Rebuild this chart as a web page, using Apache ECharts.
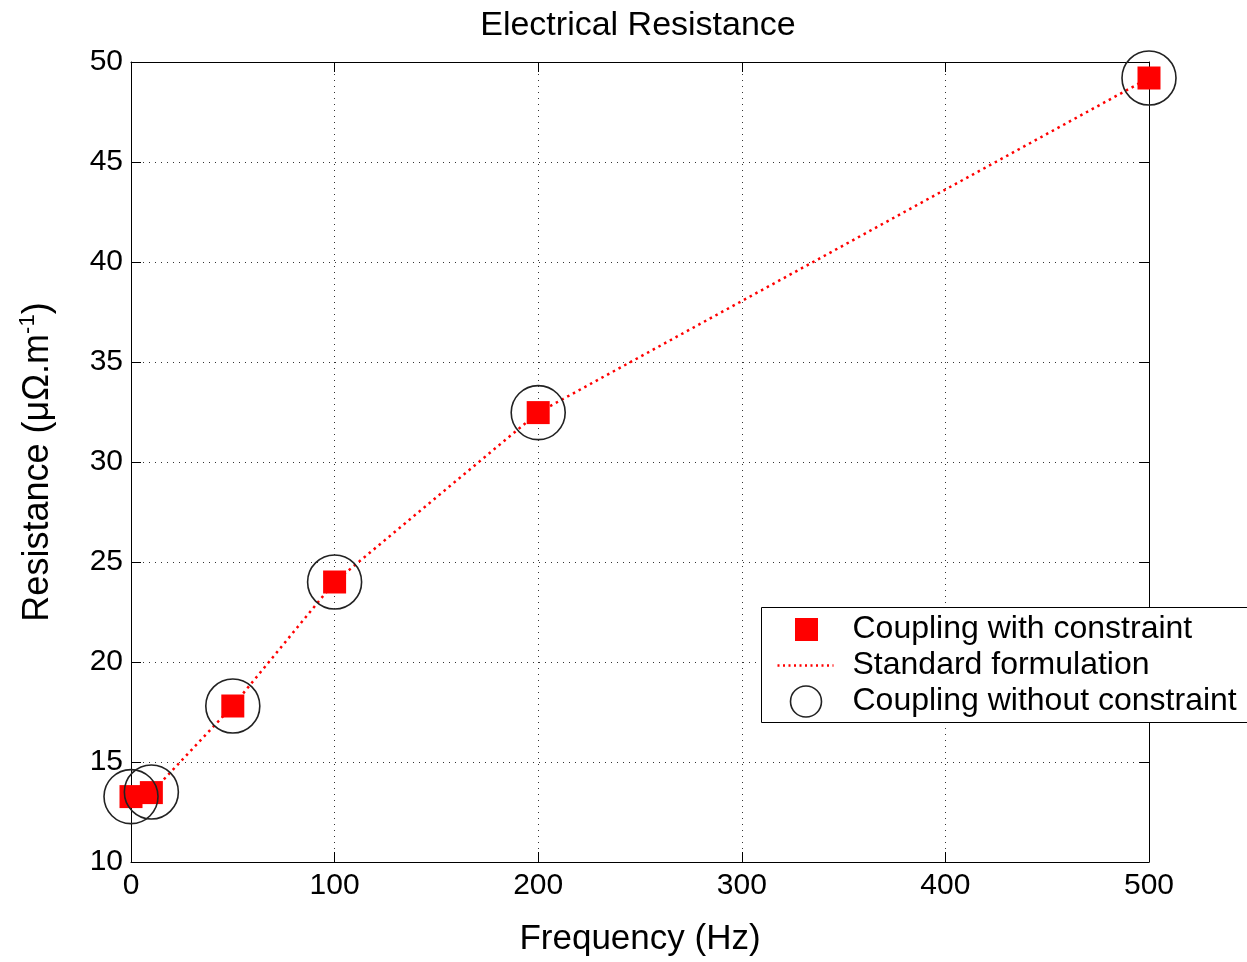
<!DOCTYPE html>
<html>
<head>
<meta charset="utf-8">
<script src="https://cdn.jsdelivr.net/npm/echarts@6/dist/echarts.min.js"></script>
<style>
html,body{margin:0;padding:0;background:#fff;}
#chart{width:1247px;height:962px;}
</style>
</head>
<body>
<div id="chart"></div>
<script>
// ---- data ----
var titleText = 'Electrical Resistance';
var xAxisName = 'Frequency (Hz)';
var frequency = [0, 10, 50, 100, 200, 500];
var withConstraint = [13.27, 13.47, 17.8, 24.0, 32.47, 49.2];
var standardFormulation = [13.27, 13.47, 17.8, 24.0, 32.47, 49.2];
var withoutConstraint = [13.27, 13.5, 17.8, 24.0, 32.47, 49.2];
var seriesNames = ['Coupling with constraint', 'Standard formulation', 'Coupling without constraint'];
var xTicks = [0, 100, 200, 300, 400, 500];
var yTicks = [10, 15, 20, 25, 30, 35, 40, 45, 50];

function pairs(xs, ys) { return xs.map(function (x, i) { return [x, ys[i]]; }); }

var FONT = '"Liberation Sans", Arial, Helvetica, sans-serif';
var chart = echarts.init(document.getElementById('chart'), null, {renderer: 'canvas'});

var gridL = 131, gridT = 62, gridR = 1149, gridB = 862;
var legX = 761, legY = 607;

var axisTick = {show: true, inside: true, length: 10, lineStyle: {color: '#000'}};
var splitLine = {show: true, lineStyle: {color: '#333', type: [1, 5], width: 1}};
var axisLine = {show: true, onZero: false, lineStyle: {color: '#000', width: 1}};

var option = {
  backgroundColor: '#fff',
  animation: false,
  title: {
    text: titleText,
    left: 633, top: 4, textAlign: 'center',
    textStyle: {fontFamily: FONT, fontSize: 34, fontWeight: 'normal', color: '#000'}
  },
  grid: {left: gridL, top: gridT, right: 1247 - gridR, bottom: 962 - gridB, show: false},
  xAxis: [{
    type: 'value', min: xTicks[0], max: xTicks[xTicks.length - 1], interval: 100,
    position: 'bottom',
    name: xAxisName, nameLocation: 'middle', nameGap: 60,
    nameTextStyle: {fontFamily: FONT, fontSize: 35, color: '#000'},
    axisLabel: {fontFamily: FONT, fontSize: 30, color: '#000', margin: 9},
    axisLine: axisLine, axisTick: axisTick, splitLine: splitLine
  }, {
    type: 'value', min: xTicks[0], max: xTicks[xTicks.length - 1], interval: 100,
    position: 'top',
    axisLabel: {show: false},
    axisLine: axisLine, axisTick: axisTick, splitLine: {show: false}
  }],
  yAxis: [{
    type: 'value', min: yTicks[0], max: yTicks[yTicks.length - 1], interval: 5,
    position: 'left',
    name: '{n|Resistance (μΩ.m}{s|-1}{n|)}', nameLocation: 'middle', nameGap: 72, nameRotate: 90,
    nameTextStyle: {
      fontFamily: FONT, fontSize: 36, color: '#000',
      rich: {
        n: {fontFamily: FONT, fontSize: 36, color: '#000'},
        s: {fontFamily: FONT, fontSize: 22, color: '#000', verticalAlign: 'top', padding: [0, 0, 20, 0]}
      }
    },
    axisLabel: {fontFamily: FONT, fontSize: 30, color: '#000', margin: 8},
    axisLine: axisLine, axisTick: axisTick, splitLine: splitLine
  }, {
    type: 'value', min: yTicks[0], max: yTicks[yTicks.length - 1], interval: 5,
    position: 'right',
    axisLabel: {show: false},
    axisLine: axisLine, axisTick: axisTick, splitLine: {show: false}
  }],
  series: [{
    name: seriesNames[0], type: 'scatter', clip: false,
    symbol: 'rect', symbolSize: 23,
    itemStyle: {color: '#ff0000', opacity: 1},
    data: pairs(frequency, withConstraint), z: 3
  }, {
    name: seriesNames[1], type: 'line', clip: false,
    showSymbol: false, symbol: 'none',
    lineStyle: {color: '#ff0000', width: 2.5, type: [2.5, 4], opacity: 1},
    data: pairs(frequency, standardFormulation), z: 4
  }, {
    name: seriesNames[2], type: 'scatter', clip: false,
    symbol: 'circle', symbolSize: 54,
    itemStyle: {color: 'rgba(0,0,0,0)', borderColor: '#222', borderWidth: 1.6, opacity: 1},
    data: pairs(frequency, withoutConstraint), z: 5
  }],
  graphic: [{
    type: 'group', left: legX, top: legY, z: 100,
    children: [
      {type: 'rect', z: 100, shape: {x: 0, y: 0, width: 500, height: 115},
       style: {fill: '#ffffff', stroke: '#000', lineWidth: 1}},
      {type: 'rect', z: 101, shape: {x: 33.5, y: 10.5, width: 23, height: 23}, style: {fill: '#ff0000'}},
      {type: 'line', z: 101, shape: {x1: 16, y1: 58, x2: 72, y2: 58},
       style: {stroke: '#ff0000', lineWidth: 2.5, lineDash: [2, 3.5]}},
      {type: 'circle', z: 101, shape: {cx: 44.5, cy: 94, r: 15.5},
       style: {fill: 'rgba(0,0,0,0)', stroke: '#222', lineWidth: 1.6}},
      {type: 'text', z: 101, x: 91, y: 22, style: {text: seriesNames[0], font: '32px ' + FONT, fill: '#000', verticalAlign: 'middle'}},
      {type: 'text', z: 101, x: 91, y: 58, style: {text: seriesNames[1], font: '32px ' + FONT, fill: '#000', verticalAlign: 'middle'}},
      {type: 'text', z: 101, x: 91, y: 94, style: {text: seriesNames[2], font: '32px ' + FONT, fill: '#000', verticalAlign: 'middle'}}
    ]
  }]
};
chart.setOption(option);
</script>
</body>
</html>
